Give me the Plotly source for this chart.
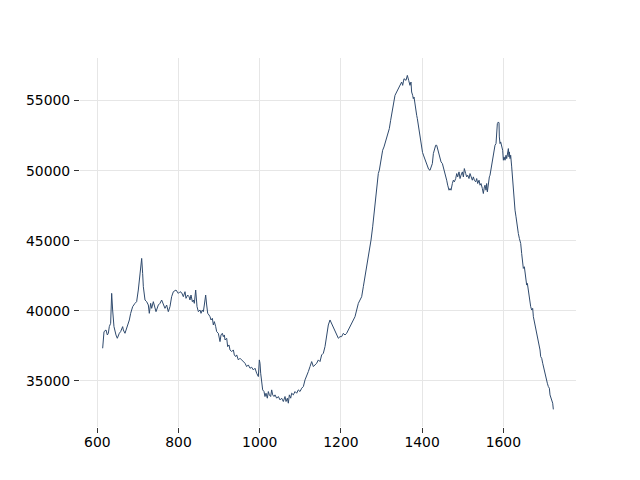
import plotly.graph_objects as go

wavenumber = [
    613.2, 616.5, 621.4, 624.7, 627.2, 629.6, 632.9, 635.4, 637.8, 641.1,
    646.0, 649.3, 654.2, 657.5, 662.5, 664.1, 668.2, 672.3, 678.9, 682.2,
    687.1, 692.8, 696.9, 701.0, 705.2, 709.3, 711.7, 713.4, 717.5, 721.6,
    725.7, 728.1, 731.4, 733.9, 738.0, 742.1, 744.6, 750.3, 754.4, 758.5,
    762.6, 766.7, 770.8, 774.9, 779.0, 783.1, 787.3, 793.8, 799.6, 803.7,
    807.8, 811.9, 816.0, 818.5, 822.6, 825.9, 828.3, 830.8, 834.1, 836.6,
    839.0, 842.3, 845.6, 848.9, 853.0, 855.4, 858.7, 861.2, 863.6, 866.9,
    869.4, 871.9, 875.1, 877.6, 880.1, 883.4, 885.8, 888.3, 891.6, 894.0,
    898.1, 899.8, 902.2, 904.7, 908.0, 910.4, 912.9, 914.6, 918.7, 921.1,
    924.4, 926.9, 931.0, 935.1, 937.5, 940.8, 943.3, 947.4, 951.5, 955.6,
    959.7, 963.8, 967.9, 972.0, 976.1, 980.2, 984.3, 988.4,
    992.5, 996.6, 999.1, 1000.7, 1002.4, 1004.8, 1007.3, 1010.6, 1013.0, 1015.5,
    1018.8, 1021.3, 1023.7, 1027.0, 1029.5, 1031.9, 1035.2, 1037.7, 1041.8, 1045.9,
    1050.0, 1054.1, 1058.2, 1062.3, 1064.8, 1068.1, 1070.5, 1073.0, 1076.3, 1078.7,
    1082.8, 1086.9, 1091.0, 1095.1, 1099.3, 1103.4, 1107.5, 1111.6, 1115.7, 1119.8,
    1123.9, 1128.0, 1132.1, 1136.2, 1140.3, 1144.4, 1148.5, 1152.6, 1156.7, 1160.8,
    1163.3, 1166.6, 1169.0, 1173.1, 1177.2, 1181.4, 1185.5, 1189.6, 1193.7, 1197.8,
    1201.8, 1206.0, 1210.0, 1214.1, 1218.3, 1222.4, 1226.5, 1230.6, 1234.7, 1238.8,
    1242.9, 1247.0, 1251.1, 1255.2, 1259.3, 1263.4, 1267.5, 1271.6, 1274.1, 1278.2,
    1281.5, 1283.9, 1286.4, 1289.7, 1292.1, 1294.6, 1297.9, 1302.8, 1306.1, 1311.0,
    1314.3, 1319.2, 1322.5, 1325.0, 1329.1, 1333.2, 1337.3, 1341.4, 1345.5, 1349.6,
    1352.1, 1355.4, 1360.3, 1363.6, 1366.9, 1370.1, 1372.6, 1374.2, 1376.7, 1378.3,
    1380.0, 1382.4, 1384.9, 1386.6, 1388.2, 1390.7, 1393.1, 1395.5, 1398.0, 1401.0,
    1404.0, 1407.0, 1410.0, 1413.0, 1416.0, 1419.5,
    1421.9, 1425.2, 1427.7, 1430.1, 1433.4, 1435.9, 1438.4, 1441.6, 1444.1, 1446.6,
    1449.9, 1452.3, 1454.8, 1458.1, 1460.5, 1463.0, 1466.3, 1468.7, 1471.2, 1474.5,
    1476.9, 1479.4, 1482.7, 1485.2, 1487.6, 1490.9, 1493.4, 1495.8, 1499.1, 1501.6,
    1504.0, 1507.3, 1509.8, 1512.3, 1515.5, 1518.0, 1520.5, 1523.7, 1526.2, 1528.7,
    1532.0, 1534.4, 1536.9, 1540.2, 1542.6, 1545.1, 1548.4, 1550.8, 1553.3, 1554.9,
    1557.4, 1559.0, 1560.7, 1563.1, 1565.6, 1567.2, 1569.7, 1571.3, 1573.8, 1575.4,
    1577.1, 1579.5, 1582.0, 1583.6, 1585.3, 1587.8, 1589.4, 1590.2, 1591.9, 1593.5,
    1596.0, 1598.4, 1600.1, 1601.7, 1604.2, 1606.6, 1608.3, 1609.9, 1612.4, 1614.0,
    1614.8, 1616.5, 1618.1, 1620.6, 1623.1, 1624.7, 1626.3, 1628.8, 1631.3, 1632.9,
    1634.6, 1637.0, 1639.5, 1641.1, 1642.8, 1645.2, 1647.7, 1649.3, 1651.8, 1653.4,
    1655.9, 1657.5, 1659.2, 1661.6, 1664.1, 1665.7, 1667.4, 1669.9, 1672.3, 1674.0,
    1675.6, 1678.1, 1680.5, 1682.2, 1683.8, 1686.3, 1688.7, 1690.4, 1692.0, 1694.5,
    1697.0, 1698.6, 1700.2, 1702.7, 1705.2, 1706.8, 1708.4, 1710.9, 1713.4, 1715.0,
    1716.7, 1718.2, 1721.6, 1723.2,
]

intensity = [
    37314, 38502, 38621, 38265, 38384, 38859, 39097, 41236, 40048, 38859,
    38265, 38027, 38384, 38502, 38859, 38621, 38384, 38740, 39334, 39810,
    40285, 40523, 40642, 41474, 42900, 43732, 42662, 41711, 40760, 40642,
    40404, 39810, 40523, 40166, 40642, 40285, 39929, 40404, 40523, 40760,
    40404, 40166, 40404, 39929, 40285, 40998, 41355, 41474, 41236, 41355,
    41284, 41000, 41355, 40880, 41117, 41000, 40761, 41117, 40642, 40761,
    40523, 41474, 40285, 39929, 40048, 39810, 40048, 39929, 40404, 41117,
    40404, 39810, 39691, 39572, 39335, 39453, 38978, 39216, 38859, 38503,
    38384, 38027, 37790, 38265, 38384, 38146, 38265, 37909, 38027, 37433,
    37552, 37196, 37077, 37196, 36839, 36720, 36839, 36482, 36601, 36482,
    36363, 36245, 36007, 36126, 35888, 35959, 35769, 35888,
    35532, 35294, 36483, 36245, 35532, 34700, 34343, 34224, 33868, 34105,
    33749, 34224, 33987, 33868, 34343, 33987, 33868, 33987, 33749, 33868,
    33630, 33749, 33511, 33868, 33511, 33749, 33392, 33987, 33749, 34105,
    33987, 34224, 34105, 34343, 34224, 34462, 34581, 35056, 35294, 35651,
    36007, 36364, 36007, 36126, 36245, 36483, 36364, 36839, 36958, 37433,
    37909, 38384, 38978, 39335, 39097, 38859, 38503, 38265, 38028, 38147,
    38144, 38382, 38263, 38382, 38620, 38857, 39095, 39333, 39570, 40046,
    40521, 40759, 40996, 41710, 42423, 43136, 43611, 44324, 45037, 45988,
    46939, 47652, 48365, 49078, 49791, 50029, 50742, 51455, 51693, 52168,
    52525, 53000, 53595, 54070, 54783, 55377, 55615, 55853, 56090, 56328,
    56090, 56566, 56447, 56803, 56447, 56091, 56328, 55615, 55378, 55140,
    55259, 54665, 54427, 53952, 53714, 53238, 52525, 52100, 51700, 51300,
    51050, 50800, 50550, 50300, 50100, 50030,
    50267, 50505, 51218, 51575, 51812, 51812, 51575, 51099, 50862, 50624,
    50505, 50267, 50030, 49673, 49317, 48960, 48603, 48722, 48603, 49079,
    49317, 49198, 49435, 49792, 49554, 49911, 49435, 49673, 49911, 49554,
    50148, 49792, 49554, 49673, 49435, 49792, 49554, 49317, 49554, 49317,
    49198, 49435, 49079, 49317, 48960, 49079, 48722, 48366, 48841, 48960,
    48603, 49079, 48484, 49316, 49554, 49673, 50148, 50505, 50743, 51218,
    51456, 51812, 51931, 52525, 53357, 53476, 53405, 52406, 51931, 52050,
    51575, 51456, 50743, 50980, 50743, 51099, 50861, 51218, 51575, 50980,
    51337, 50861, 51099, 50267, 49316, 48603, 47890, 47177, 46702, 46226,
    46108, 45513, 45157, 44919, 44800, 44087, 43374, 43017, 43136, 42661,
    42423, 41829, 41948, 41354, 40997, 40759, 40284, 40046, 40165, 39570,
    39333, 38858, 38501, 38382, 38144, 37907, 37432, 37194, 36718, 36600,
    36243, 36005, 35886, 35530, 35292, 35054, 34817, 34579, 34460, 33985,
    33866, 33628, 33390, 32950,
]

x_ticks = [600, 800, 1000, 1200, 1400, 1600]
y_ticks = [35000, 40000, 45000, 50000, 55000]

fig = go.Figure()
fig.add_trace(go.Scatter(
    x=wavenumber, y=intensity, mode="lines",
    line=dict(color="#2f4a6d", width=1),
    showlegend=False,
))

axis_common = dict(
    showgrid=True, gridcolor="#e6e6e6", gridwidth=1,
    zeroline=False, showline=False,
    ticks="outside", ticklen=5, tickwidth=1, tickcolor="#333333",
    tickfont=dict(family="DejaVu Sans", size=13.9, color="#000000"),
)

fig.update_layout(
    width=640, height=480,
    margin=dict(l=80, r=64, t=58, b=53),
    paper_bgcolor="white", plot_bgcolor="white",
    xaxis=dict(range=[557.4, 1779.0], tickvals=x_ticks,
               ticktext=[str(v) for v in x_ticks], ticklabelstandoff=-3,
               **axis_common),
    yaxis=dict(range=[31692, 58044], tickvals=y_ticks,
               ticktext=[str(v) for v in y_ticks], ticklabelstandoff=1,
               **axis_common),
)

fig.write_html(
    "out.html",
    config={"displayModeBar": False},
    post_script="document.body.style.margin='0';document.body.style.padding='0';",
)
